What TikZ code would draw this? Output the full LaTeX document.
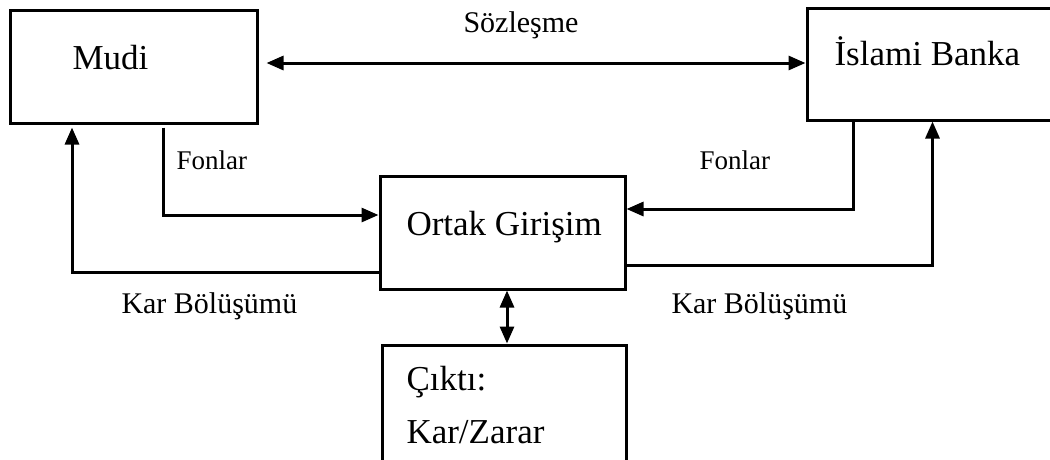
\documentclass[tikz,border=0pt]{standalone}
\usepackage{fontspec}
\setmainfont{Liberation Serif}
\usetikzlibrary{arrows.meta, positioning, calc}
\tikzset{
  every picture/.style={line width=3pt},
  box/.style={draw=black, rectangle, inner sep=0pt},
  boxtext/.style={font=\fontsize{35}{42}\selectfont, inner sep=0pt, anchor=base west},
  note/.style={font=\fontsize{30}{36}\selectfont, inner sep=0pt, anchor=base west},
  small/.style={font=\fontsize{27}{32}\selectfont, inner sep=0pt, anchor=base west},
  arrow/.style={-{Triangle[length=17pt, width=14pt]}, draw=black, line width=3pt},
  both/.style={{Triangle[length=17pt, width=14pt]}-{Triangle[length=17pt, width=14pt]}, draw=black, line width=3pt},
}

\begin{document}
\begin{tikzpicture}[x=1pt, y=-1pt]
  \useasboundingbox (0,0) rectangle (1050,459);
  \clip (0,0) rectangle (1050,459);
  % boxes
  \node[box, minimum width=247pt, minimum height=113pt] (mudi) at (133.5,66.5) {};
  \node[box, minimum width=251pt, minimum height=112pt] (banka) at (932.5,64) {};
  \node[box, minimum width=245pt, minimum height=113pt] (ortak) at (502.5,232.5) {};
  \node[box, minimum width=244pt, minimum height=125pt] (cikti) at (504,407.5) {};
  \node[boxtext] (muditxt) at (71,69) {Mudi};
  \node[boxtext] (bankatxt) at (833,65) {İslami Banka};
  \node[boxtext] (ortaktxt) at (405,235) {Ortak Girişim};
  \node[boxtext] (ciktitxt) at (405,390) {Çıktı:};
  \node[boxtext] (kartxt) at (405,443) {Kar/Zarar};
  % labels
  \node[note] (sozlesme) at (462,32) {Sözleşme};
  \node[small] (fonlarL) at (175,169) {Fonlar};
  \node[small] (fonlarR) at (698,169) {Fonlar};
  \node[note] (karL) at (120,313) {Kar Bölüşümü};
  \node[note] (karR) at (670,313) {Kar Bölüşümü};
  % connectors
  \draw[both, shorten <=8pt] ([yshift=3.5pt]mudi.east) -- ([yshift=3.5pt]mudi.east -| banka.west);
  \draw[arrow] ([xshift=29.5pt, yshift=-3pt]mudi.south) |- ([yshift=17.5pt]ortak.west);
  \draw[arrow] ([yshift=-39.5pt]ortak.west) -| ([xshift=-61.5pt, yshift=-3pt]mudi.south);
  \draw[arrow] ([xshift=-79.5pt]banka.south) |- ([yshift=23.5pt]ortak.east);
  \draw[arrow] ([yshift=-32.5pt]ortak.east) -| (banka.south);
  \draw[both] ([xshift=4.5pt]ortak.south) -- ([xshift=4.5pt]ortak.south |- cikti.north);
\end{tikzpicture}
\end{document}
